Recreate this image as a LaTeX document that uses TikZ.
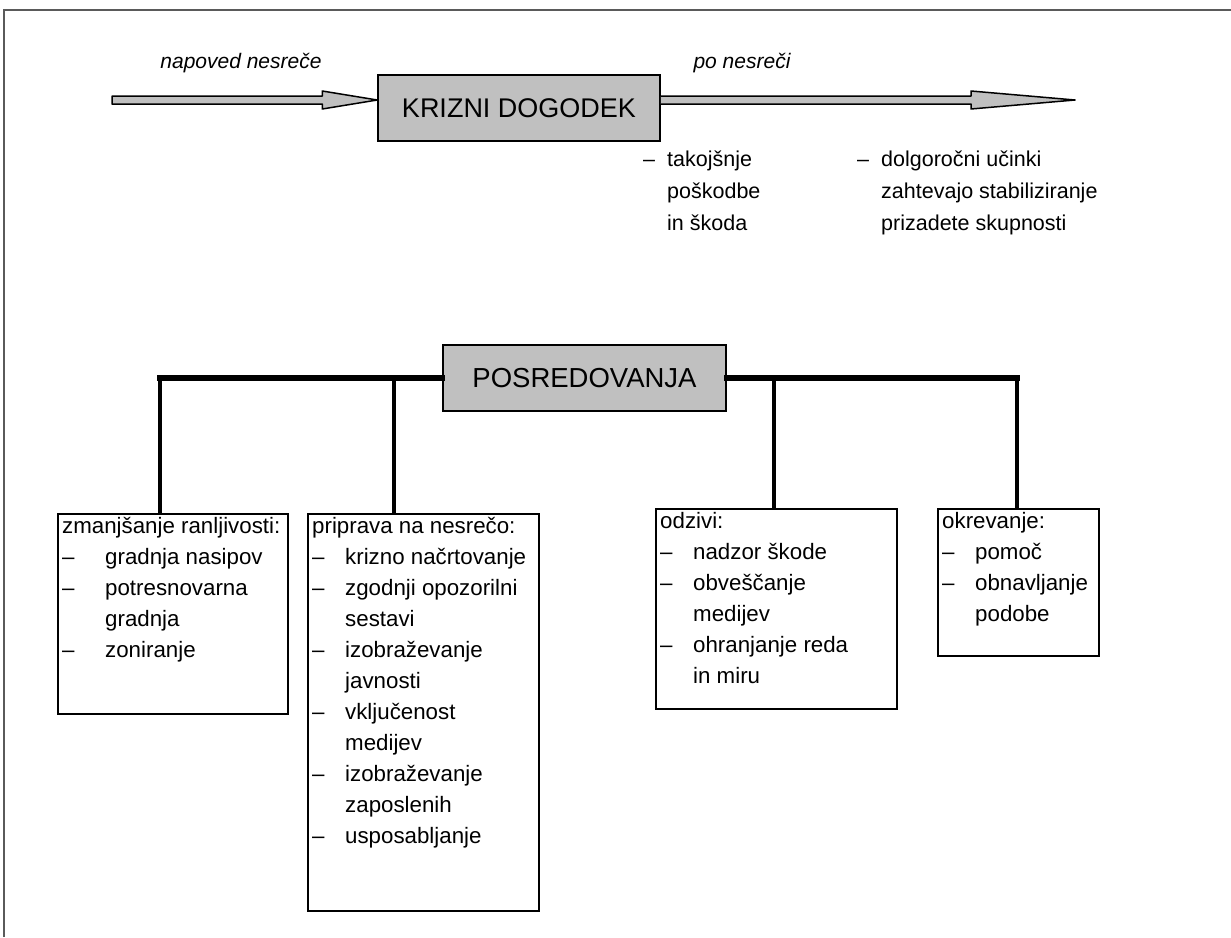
\documentclass[tikz,border=0pt]{standalone}
\usepackage{fontspec}
\setmainfont{Liberation Sans}
\usetikzlibrary{calc}
\definecolor{boxgray}{RGB}{192,192,192}
\definecolor{linegray}{RGB}{90,90,90}
\newlength\indw
\newcommand{\itm}[1]{\makebox[\indw][l]{--}#1}
\newcommand{\nxt}[1]{\hspace*{\indw}#1}
\tikzset{
  headbox/.style={draw, line width=1.5pt, fill=boxgray, inner sep=0pt},
  listbox/.style={draw, line width=1.5pt, inner sep=0pt, anchor=north west},
  listtext/.style={anchor=north west, align=left, inner xsep=5pt, inner ysep=4pt,
    font=\fontsize{22.3}{31}\selectfont, execute at begin node={\setlength\indw{33pt}}},
  fatarrow/.style={draw, line width=1.5pt, fill=boxgray, line join=round},
  bus/.style={line width=5.5pt, line cap=rect},
  drop/.style={line width=4pt},
  note/.style={anchor=north west, align=left, inner sep=0pt,
    font=\fontsize{21.5}{32}\selectfont, execute at begin node={\setlength\indw{24pt}}},
  outline/.style={draw=linegray, line width=2pt},
}
\begin{document}
\begin{tikzpicture}[x=1pt, y=-1pt]
    \useasboundingbox (0,0) rectangle (1231,937);
    % frame
    \draw[outline] (4,937) -- (4,10) -- (1231,10);
    % crisis event on the time line
    \node[headbox, minimum width=282pt, minimum height=66pt, font=\fontsize{27}{30}\selectfont] (krizni) at (519,108) {KRIZNI DOGODEK};
    \coordinate (pred) at (112,100);
    \coordinate (po) at (1075,100);
    \coordinate (kw) at (krizni.west |- pred);
    \coordinate (ke) at (krizni.east |- pred);
    \filldraw[fatarrow] ($(pred)+(0,-4)$) -- ($(kw)+(-55,-4)$) -- ($(kw)+(-55,-9)$) -- (kw)
        -- ($(kw)+(-55,9)$) -- ($(kw)+(-55,4)$) -- ($(pred)+(0,4)$) -- cycle;
    \filldraw[fatarrow] ($(ke)+(0,-4)$) -- ($(po)+(-104,-4)$) -- ($(po)+(-104,-9)$) -- (po)
        -- ($(po)+(-104,9)$) -- ($(po)+(-104,4)$) -- ($(ke)+(0,4)$);
    \node[font=\itshape\fontsize{21}{25}\selectfont] (napoved) at (241,63) {napoved nesreče};
    \node[font=\itshape\fontsize{21}{25}\selectfont] (ponesreci) at (742,63) {po nesreči};
    % consequences
    \node[note] (takoj) at (643,151) {\itm{takojšnje}\\ \nxt{poškodbe}\\ \nxt{in škoda}};
    \node[note] (dolgo) at (857,151) {\itm{dolgoročni učinki}\\ \nxt{zahtevajo stabiliziranje}\\ \nxt{prizadete skupnosti}};
    % interventions
    \node[headbox, minimum width=283pt, minimum height=66pt, font=\fontsize{27.5}{30}\selectfont] (posred) at (584.5,378) {POSREDOVANJA};
    \node[listbox, minimum width=230pt, minimum height=200pt] (zman) at (57,513) {};
    \node[listbox, minimum width=231pt, minimum height=397pt] (prip) at (307,513) {};
    \node[listbox, minimum width=241pt, minimum height=200pt] (odziv) at (655,508) {};
    \node[listbox, minimum width=161pt, minimum height=147pt] (okrev) at (937,508) {};
    \node[listtext, execute at begin node={\setlength\indw{43pt}}] (zmantxt) at (zman.north west)
        {zmanjšanje ranljivosti:\\ \itm{gradnja nasipov}\\ \itm{potresnovarna}\\ \nxt{gradnja}\\ \itm{zoniranje}};
    \node[listtext] (priptxt) at (prip.north west)
        {priprava na nesrečo:\\ \itm{krizno načrtovanje}\\ \itm{zgodnji opozorilni}\\ \nxt{sestavi}\\
         \itm{izobraževanje}\\ \nxt{javnosti}\\ \itm{vključenost}\\ \nxt{medijev}\\
         \itm{izobraževanje}\\ \nxt{zaposlenih}\\ \itm{usposabljanje}};
    \node[listtext] (odzivtxt) at (odziv.north west)
        {odzivi:\\ \itm{nadzor škode}\\ \itm{obveščanje}\\ \nxt{medijev}\\ \itm{ohranjanje reda}\\ \nxt{in miru}};
    \node[listtext] (okrevtxt) at (okrev.north west)
        {okrevanje:\\ \itm{pomoč}\\ \itm{obnavljanje}\\ \nxt{podobe}};
    % connectors
    \coordinate (j1) at (160,378);
    \coordinate (j2) at (394,378);
    \coordinate (j3) at (774,378);
    \coordinate (j4) at (1017,378);
    \draw[bus] (j1) -- (posred.west);
    \draw[bus] (posred.east) -- (j4);
    \draw[drop] (j1) -- (j1 |- zman.north);
    \draw[drop] (j2) -- (j2 |- prip.north);
    \draw[drop] (j3) -- (j3 |- odziv.north);
    \draw[drop] (j4) -- (j4 |- okrev.north);
\end{tikzpicture}
\end{document}
